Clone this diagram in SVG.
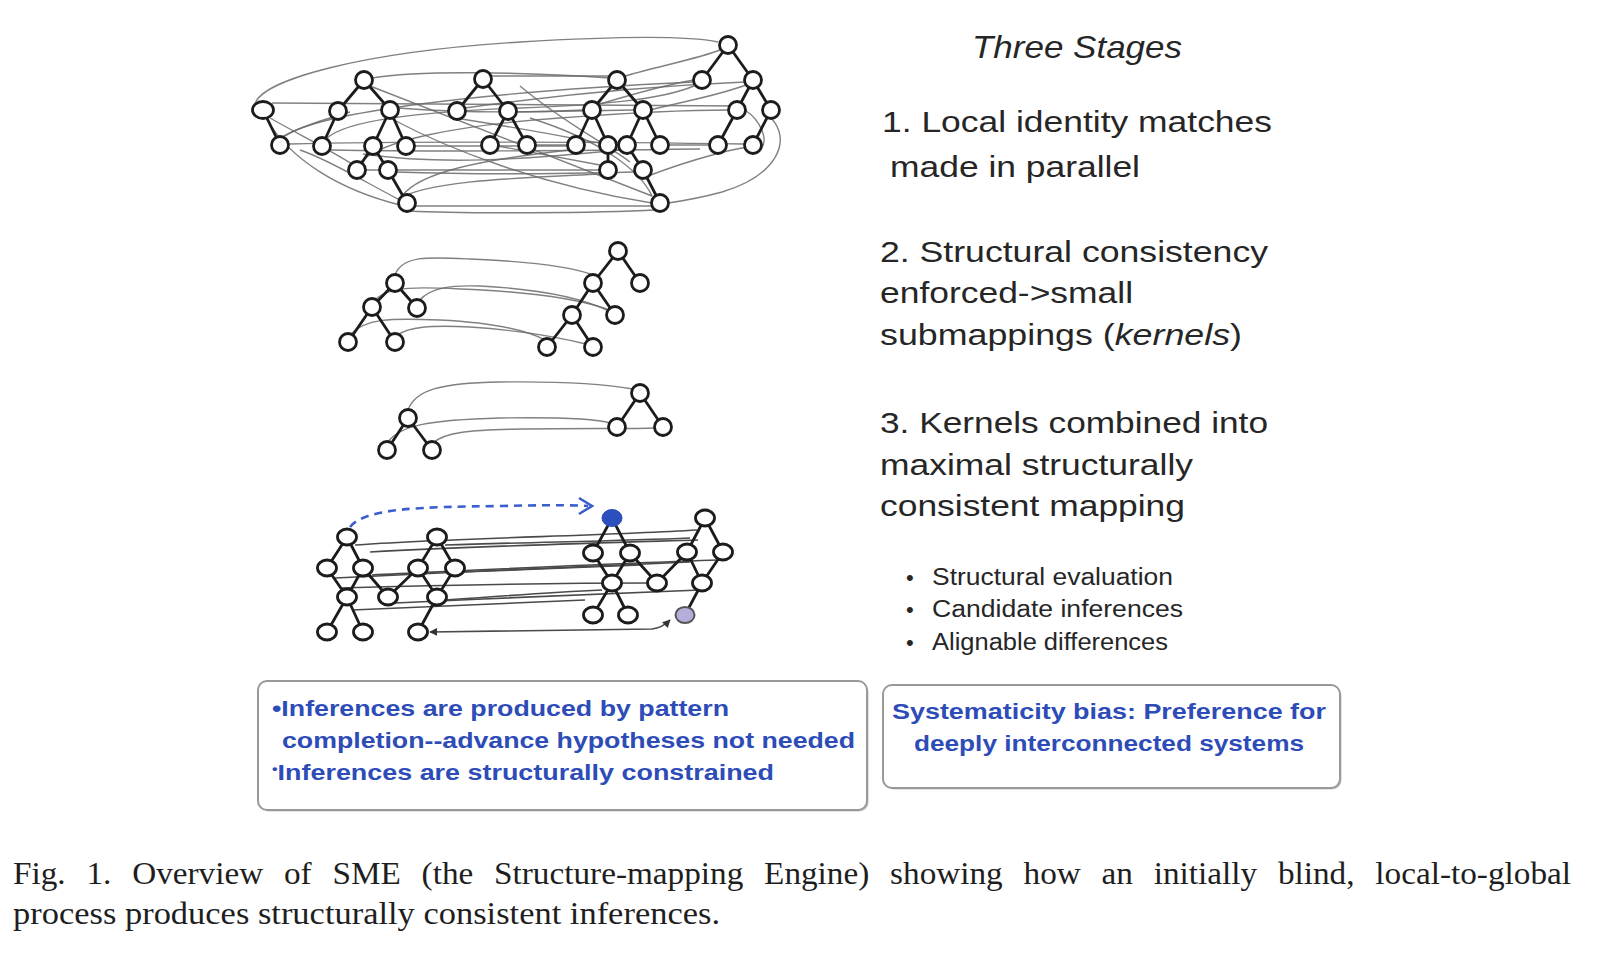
<svg xmlns="http://www.w3.org/2000/svg" width="1604" height="956" viewBox="0 0 1604 956">
<style>
.n{fill:#fff;stroke:#1c1c1c;stroke-width:2.8}
.e{stroke:#1c1c1c;stroke-width:2.8;fill:none}
.ln{fill:none;stroke:#6a6a6a;stroke-width:1.4;opacity:.85}
.ld{fill:none;stroke:#4a4a4a;stroke-width:1.6}
.t{font-family:"Liberation Sans",Arial,sans-serif;fill:#262626}
.b{font-family:"Liberation Sans",Arial,sans-serif;font-weight:bold;fill:#2d4cb8;font-size:22px}
.cap{font-family:"Liberation Serif","Times New Roman",serif;fill:#1e1e1e;font-size:32px}
.box{fill:#fff;stroke:#999;stroke-width:2}
</style>
<defs>
<marker id="ah" viewBox="0 0 10 10" refX="9" refY="5" markerWidth="5" markerHeight="5" orient="auto-start-reverse">
<path d="M0,0 L10,5 L0,10 z" fill="#333"/>
</marker>
</defs>
<rect width="1604" height="956" fill="#fff"/>

<!-- connectors -->
<g id="connectors">
<!-- stage 1 tangle -->
<path class="ln" d="M255,104 C262,80 360,52 520,42 C620,36 690,36 718,42"/>
<path class="ln" d="M272,103 L738,106"/>
<path class="ln" d="M771,118 C792,140 778,175 722,192 C700,198 682,201 668,203"/>
<path class="ln" d="M416,206 L651,206"/>
<path class="ln" d="M410,211 C460,214 600,213 656,210"/>
<path class="ln" d="M289,144 C400,141 620,142 744,144"/>
<path class="ln" d="M331,150 C450,152 560,151 700,149"/>
<path class="ln" d="M414,146 L568,146"/>
<path class="ln" d="M365,170 L600,170"/>
<path class="ln" d="M396,172 C480,175 560,174 636,172"/>
<path class="ln" d="M370,86 L652,196"/>
<path class="ln" d="M285,136 C320,112 480,92 694,82"/>
<path class="ln" d="M326,139 C345,120 420,112 520,108 C600,105 660,100 694,86"/>
<path class="ln" d="M360,163 C380,140 460,125 560,118 C640,112 700,110 729,110"/>
<path class="ln" d="M402,196 C420,172 480,160 569,150"/>
<path class="ln" d="M398,199 C430,180 520,178 600,174"/>
<path class="ln" d="M465,108 C550,96 650,86 745,82"/>
<path class="ln" d="M490,76 L609,76"/>
<path class="ln" d="M372,78 C420,70 520,72 610,78"/>
<path class="ln" d="M398,108 C450,112 520,113 584,110"/>
<path class="ln" d="M516,112 L635,110"/>
<path class="ln" d="M535,145 L569,145"/>
<path class="ln" d="M498,146 L600,165"/>
<path class="ln" d="M455,118 C520,128 560,136 600,143"/>
<path class="ln" d="M270,118 C300,135 330,150 352,164"/>
<path class="ln" d="M280,138 C300,126 330,118 350,112"/>
<path class="ln" d="M650,110 C690,100 720,95 746,85"/>
<path class="ln" d="M667,145 L710,145"/>
<path class="ln" d="M600,104 C640,92 670,84 694,80"/>
<path class="ln" d="M625,76 C660,66 700,58 720,50"/>
<path class="ln" d="M390,118 C450,150 540,185 652,203"/>
<path class="ln" d="M648,176 C690,160 740,146 760,146"/>
<path class="ln" d="M363,154 C440,165 520,160 620,150"/>
<path class="ln" d="M520,86 C560,120 600,140 630,162"/>
<path class="ln" d="M300,150 C330,160 370,185 400,200"/>
<path class="ln" d="M745,110 C760,120 770,140 760,150"/>
<path class="ln" d="M530,118 C600,140 640,170 652,196"/>
<path class="ln" d="M266,118 C290,160 340,190 400,205"/>
<!-- stage 2 -->
<path class="ln" d="M395,275 C402,255 430,257 470,259 C540,262 575,268 593,275"/>
<path class="ln" d="M376,299 C390,286 420,287 460,289 C540,292 580,300 607,309"/>
<path class="ln" d="M420,300 C430,288 450,285 480,286 C540,289 582,298 609,311"/>
<path class="ln" d="M350,335 C365,318 390,318 440,320 C500,323 530,332 545,340"/>
<path class="ln" d="M398,335 C408,327 430,325 470,327 C530,331 570,340 590,345"/>
<!-- stage 2b -->
<path class="ln" d="M408,410 C415,390 440,383 500,382 C570,381 610,385 633,389"/>
<path class="ln" d="M388,442 C400,425 430,420 500,418 C570,417 600,420 610,423"/>
<path class="ln" d="M433,443 C445,432 470,430 520,429 C580,428 630,429 656,428"/>
<!-- stage 3 -->
<path class="ld" d="M355,545 C450,538 600,536 697,530"/>
<path class="ld" d="M370,552 C480,546 560,544 698,540"/>
<path class="ld" d="M445,545 C540,542 620,541 690,538"/>
<path class="ld" d="M335,578 C450,572 600,566 690,562"/>
<path class="ld" d="M372,575 C480,570 620,563 718,560"/>
<path class="ld" d="M462,572 C540,569 600,567 640,565"/>
<path class="ld" d="M445,600 C500,596 560,592 602,590"/>
<path class="ld" d="M395,603 C500,598 620,593 700,590"/>
<path class="ld" d="M352,610 C450,606 530,603 585,600"/>
<path class="ld" d="M340,588 C450,585 560,583 650,583"/>
<path class="ld" d="M430,632 L652,629 Q662,628 670,620" marker-start="url(#ah)" marker-end="url(#ah)"/>
<path d="M350,527 C365,508 420,507 500,506 C545,505 570,505 588,506" fill="none" stroke="#3a5fcd" stroke-width="2.6" stroke-dasharray="8,6"/>
<polyline points="579,498 592,506 579,514" fill="none" stroke="#3a5fcd" stroke-width="2.6"/>
</g>

<!-- stage 1 trees -->
<g id="tree-a">
<path class="e" d="M263,110 L280,145"/>
<ellipse class="n" cx="263" cy="110" rx="10.5" ry="8.5"/>
<circle class="n" cx="280" cy="145" r="8.5"/>
</g>
<g id="tree-b">
<path class="e" d="M364,80 L338,111 M364,80 L390,110 M338,111 L322,146 M390,110 L373,146 M390,110 L406,146 M373,146 L357,170 M373,146 L388,170 M388,170 L407,203"/>
<circle class="n" cx="364" cy="80" r="8.5"/>
<circle class="n" cx="338" cy="111" r="8.5"/>
<circle class="n" cx="390" cy="110" r="8.5"/>
<circle class="n" cx="322" cy="146" r="8.5"/>
<circle class="n" cx="373" cy="146" r="8.5"/>
<circle class="n" cx="406" cy="146" r="8.5"/>
<circle class="n" cx="357" cy="170" r="8.5"/>
<circle class="n" cx="388" cy="170" r="8.5"/>
<circle class="n" cx="407" cy="203" r="8.5"/>
</g>
<g id="tree-c">
<path class="e" d="M483,79 L457,111 M483,79 L508,111 M508,111 L490,145 M508,111 L527,145"/>
<circle class="n" cx="483" cy="79" r="8.5"/>
<circle class="n" cx="457" cy="111" r="8.5"/>
<circle class="n" cx="508" cy="111" r="8.5"/>
<circle class="n" cx="490" cy="145" r="8.5"/>
<circle class="n" cx="527" cy="145" r="8.5"/>
</g>
<g id="tree-d">
<path class="e" d="M617,80 L592,110 M617,80 L643,110 M592,110 L576,145 M592,110 L608,145 M643,110 L627,145 M643,110 L660,145 M608,145 L608,170 M627,145 L643,170 M643,170 L660,203"/>
<circle class="n" cx="617" cy="80" r="8.5"/>
<circle class="n" cx="592" cy="110" r="8.5"/>
<circle class="n" cx="643" cy="110" r="8.5"/>
<circle class="n" cx="576" cy="145" r="8.5"/>
<circle class="n" cx="608" cy="145" r="8.5"/>
<circle class="n" cx="627" cy="145" r="8.5"/>
<circle class="n" cx="660" cy="145" r="8.5"/>
<circle class="n" cx="608" cy="170" r="8.5"/>
<circle class="n" cx="643" cy="170" r="8.5"/>
<circle class="n" cx="660" cy="203" r="8.5"/>
</g>
<g id="tree-e">
<path class="e" d="M728,45 L702,80 M728,45 L753,80 M753,80 L737,110 M753,80 L771,110 M737,110 L718,145 M771,110 L753,145"/>
<circle class="n" cx="728" cy="45" r="8.5"/>
<circle class="n" cx="702" cy="80" r="8.5"/>
<circle class="n" cx="753" cy="80" r="8.5"/>
<circle class="n" cx="737" cy="110" r="8.5"/>
<circle class="n" cx="771" cy="110" r="8.5"/>
<circle class="n" cx="718" cy="145" r="8.5"/>
<circle class="n" cx="753" cy="145" r="8.5"/>
</g>

<!-- stage 2 trees -->
<g id="kernel-left">
<path class="e" d="M395,283 L372,307 M395,283 L417,308 M372,307 L348,342 M372,307 L395,342"/>
<circle class="n" cx="395" cy="283" r="8.5"/>
<circle class="n" cx="372" cy="307" r="8.5"/>
<circle class="n" cx="417" cy="308" r="8.5"/>
<circle class="n" cx="348" cy="342" r="8.5"/>
<circle class="n" cx="395" cy="342" r="8.5"/>
</g>
<g id="kernel-right">
<path class="e" d="M618,251 L593,283 M618,251 L640,283 M593,283 L572,315 M593,283 L615,315 M572,315 L547,347 M572,315 L593,347"/>
<circle class="n" cx="618" cy="251" r="8.5"/>
<circle class="n" cx="593" cy="283" r="8.5"/>
<circle class="n" cx="640" cy="283" r="8.5"/>
<circle class="n" cx="572" cy="315" r="8.5"/>
<circle class="n" cx="615" cy="315" r="8.5"/>
<circle class="n" cx="547" cy="347" r="8.5"/>
<circle class="n" cx="593" cy="347" r="8.5"/>
</g>
<g id="kernel2-left">
<path class="e" d="M408,418 L387,450 M408,418 L432,450"/>
<circle class="n" cx="408" cy="418" r="8.5"/>
<circle class="n" cx="387" cy="450" r="8.5"/>
<circle class="n" cx="432" cy="450" r="8.5"/>
</g>
<g id="kernel2-right">
<path class="e" d="M640,393 L617,427 M640,393 L663,427"/>
<circle class="n" cx="640" cy="393" r="8.5"/>
<circle class="n" cx="617" cy="427" r="8.5"/>
<circle class="n" cx="663" cy="427" r="8.5"/>
</g>

<!-- stage 3 trees -->
<g id="base-left">
<path class="e" d="M347,537 L327,568 M347,537 L363,568 M327,568 L347,597 M363,568 L347,597 M363,568 L388,597 M347,597 L327,632 M347,597 L363,632 M437,537 L418,568 M437,537 L455,568 M418,568 L388,597 M418,568 L437,597 M455,568 L437,597 M437,597 L418,632"/>
<ellipse class="n" cx="347" cy="537" rx="9.5" ry="8"/>
<ellipse class="n" cx="327" cy="568" rx="9.5" ry="8"/>
<ellipse class="n" cx="363" cy="568" rx="9.5" ry="8"/>
<ellipse class="n" cx="347" cy="597" rx="9.5" ry="8"/>
<ellipse class="n" cx="388" cy="597" rx="9.5" ry="8"/>
<ellipse class="n" cx="327" cy="632" rx="9.5" ry="8"/>
<ellipse class="n" cx="363" cy="632" rx="9.5" ry="8"/>
<ellipse class="n" cx="437" cy="537" rx="9.5" ry="8"/>
<ellipse class="n" cx="418" cy="568" rx="9.5" ry="8"/>
<ellipse class="n" cx="455" cy="568" rx="9.5" ry="8"/>
<ellipse class="n" cx="437" cy="597" rx="9.5" ry="8"/>
<ellipse class="n" cx="418" cy="632" rx="9.5" ry="8"/>
</g>
<g id="target-right">
<path class="e" d="M612,518 L593,553 M612,518 L630,553 M593,553 L612,583 M630,553 L612,583 M630,553 L657,583 M612,583 L593,615 M612,583 L628,615 M705,518 L687,552 M705,518 L723,552 M687,552 L657,583 M687,552 L702,583 M723,552 L702,583 M702,583 L685,615"/>
<ellipse cx="612" cy="518" rx="10" ry="8.5" fill="#2b4fbd" stroke="#2b4fbd" stroke-width="1"/>
<ellipse class="n" cx="593" cy="553" rx="9.5" ry="8"/>
<ellipse class="n" cx="630" cy="553" rx="9.5" ry="8"/>
<ellipse class="n" cx="612" cy="583" rx="9.5" ry="8"/>
<ellipse class="n" cx="657" cy="583" rx="9.5" ry="8"/>
<ellipse class="n" cx="593" cy="615" rx="9.5" ry="8"/>
<ellipse class="n" cx="628" cy="615" rx="9.5" ry="8"/>
<ellipse class="n" cx="705" cy="518" rx="9.5" ry="8"/>
<ellipse class="n" cx="687" cy="552" rx="9.5" ry="8"/>
<ellipse class="n" cx="723" cy="552" rx="9.5" ry="8"/>
<ellipse class="n" cx="702" cy="583" rx="9.5" ry="8"/>
<ellipse cx="685" cy="615" rx="9.5" ry="8" fill="#b4aedb" stroke="#555" stroke-width="2"/>
</g>

<!-- right text -->
<g id="stages-text">
<text class="t" x="972" y="58" font-size="32" font-style="italic" textLength="210" lengthAdjust="spacingAndGlyphs">Three Stages</text>
<text class="t" x="882" y="132" font-size="30" textLength="390" lengthAdjust="spacingAndGlyphs">1. Local identity matches</text>
<text class="t" x="890" y="177" font-size="30" textLength="250" lengthAdjust="spacingAndGlyphs">made in parallel</text>
<text class="t" x="880" y="262" font-size="30" textLength="388" lengthAdjust="spacingAndGlyphs">2. Structural consistency</text>
<text class="t" x="880" y="303" font-size="30" textLength="253" lengthAdjust="spacingAndGlyphs">enforced-&gt;small</text>
<text class="t" x="880" y="345" font-size="30" textLength="362" lengthAdjust="spacingAndGlyphs">submappings (<tspan font-style="italic">kernels</tspan>)</text>
<text class="t" x="880" y="433" font-size="30" textLength="388" lengthAdjust="spacingAndGlyphs">3. Kernels combined into</text>
<text class="t" x="880" y="475" font-size="30" textLength="313" lengthAdjust="spacingAndGlyphs">maximal structurally</text>
<text class="t" x="880" y="516" font-size="30" textLength="305" lengthAdjust="spacingAndGlyphs">consistent mapping</text>
<text class="t" x="906" y="585" font-size="22">•</text>
<text class="t" x="932" y="585" font-size="23" textLength="241" lengthAdjust="spacingAndGlyphs">Structural evaluation</text>
<text class="t" x="906" y="617" font-size="22">•</text>
<text class="t" x="932" y="617" font-size="23" textLength="251" lengthAdjust="spacingAndGlyphs">Candidate inferences</text>
<text class="t" x="906" y="650" font-size="22">•</text>
<text class="t" x="932" y="650" font-size="23" textLength="236" lengthAdjust="spacingAndGlyphs">Alignable differences</text>
</g>

<!-- boxes -->
<g id="box-inferences">
<rect x="259.5" y="682.5" width="609" height="129" rx="9" fill="#c8c8c8"/>
<rect class="box" x="258" y="681" width="609" height="129" rx="9"/>
<text class="b" x="272" y="716" textLength="457" lengthAdjust="spacingAndGlyphs">•Inferences are produced by pattern</text>
<text class="b" x="282" y="748" textLength="573" lengthAdjust="spacingAndGlyphs">completion--advance hypotheses not needed</text>
<text class="b" x="272" y="780" textLength="502" lengthAdjust="spacingAndGlyphs"><tspan font-size="13" dy="-7">•</tspan><tspan dy="7">Inferences are structurally constrained</tspan></text>
</g>
<g id="box-systematicity">
<rect x="884.5" y="686.5" width="457" height="103" rx="9" fill="#c8c8c8"/>
<rect class="box" x="883" y="685" width="457" height="103" rx="9"/>
<text class="b" x="1109" y="719" text-anchor="middle" textLength="434" lengthAdjust="spacingAndGlyphs">Systematicity bias: Preference for</text>
<text class="b" x="1109" y="751" text-anchor="middle" textLength="390" lengthAdjust="spacingAndGlyphs">deeply interconnected systems</text>
</g>

<!-- caption -->
<g id="caption">
<text class="cap" x="13" y="884" word-spacing="12" textLength="1558" lengthAdjust="spacingAndGlyphs">Fig. 1. Overview of SME (the Structure-mapping Engine) showing how an initially blind, local-to-global</text>
<text class="cap" x="13" y="924" textLength="707" lengthAdjust="spacingAndGlyphs">process produces structurally consistent inferences.</text>
</g>
</svg>
